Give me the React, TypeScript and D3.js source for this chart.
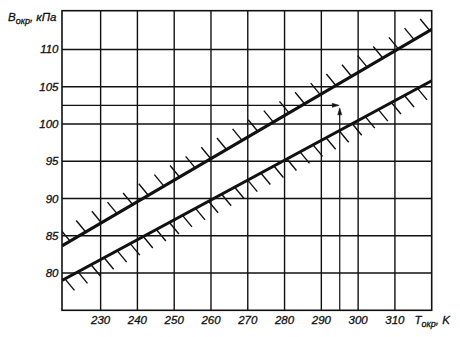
import React from "react";
import * as d3 from "d3";

const xDomain = [219.5, 320];
const yDomain = [75, 115.2];
const xTicks = [230, 240, 250, 260, 270, 280, 290, 300, 310];
const yTicks = [80, 85, 90, 95, 100, 105, 110];
const upperLine = [
  { t: 219.5, b: 83.65 },
  { t: 320, b: 112.7 },
];
const lowerLine = [
  { t: 219.5, b: 79.0 },
  { t: 320, b: 105.8 },
];
const markerT = 295;
const markerB = 102.5;
const upperHatchStart = 221.7;
const upperHatchStep = 4.25;
const upperHatchCount = 24;
const lowerHatchStart = 220.3;
const lowerHatchStep = 3.55;
const lowerHatchCount = 29;

const W = 460;
const H = 337;
const FONT = "'Liberation Sans', Arial, sans-serif";

export default function App() {
  const x = d3.scaleLinear().domain(xDomain).range([62, 431.7]);
  const y = d3.scaleLinear().domain(yDomain).range([310.3, 10.7]);
  const left = x(xDomain[0]);
  const right = x(xDomain[1]);
  const top = y(yDomain[1]);
  const bottom = y(yDomain[0]);

  const lineGen = d3
    .line<{ t: number; b: number }>()
    .x((d) => x(d.t))
    .y((d) => y(d.b));

  const interp = (pts: { t: number; b: number }[], t: number) =>
    pts[0].b + ((pts[1].b - pts[0].b) * (t - pts[0].t)) / (pts[1].t - pts[0].t);

  const hatches = (
    pts: { t: number; b: number }[],
    start: number,
    step: number,
    count: number,
    dir: number
  ) =>
    d3.range(count).map((i) => {
      const t = start + i * step;
      const px = x(t);
      const py = y(interp(pts, t));
      return { x1: px, y1: py, x2: px + dir * 9.5, y2: py + dir * 11.5 };
    });

  const upH = hatches(upperLine, upperHatchStart, upperHatchStep, upperHatchCount, -1);
  const loH = hatches(lowerLine, lowerHatchStart, lowerHatchStep, lowerHatchCount, 1);

  const hy = y(markerB);
  const vx = x(markerT);
  const tipX = vx - 0.5;
  const tipY = hy + 2.5;

  return (
    <svg
      width={W}
      height={H}
      style={{ position: "absolute", left: 0, top: 0, background: "#fff" }}
    >
      <defs>
        <clipPath id="plot">
          <rect x={left} y={top} width={right - left} height={bottom - top} />
        </clipPath>
      </defs>
      <rect x={0} y={0} width={W} height={H} fill="#fff" />
      {/* grid */}
      <g stroke="#111" strokeWidth={1.4}>
        {xTicks.map((t) => (
          <line key={"vx" + t} x1={x(t)} x2={x(t)} y1={top} y2={bottom} />
        ))}
        {yTicks.map((v) => (
          <line key={"hy" + v} x1={left} x2={right} y1={y(v)} y2={y(v)} />
        ))}
      </g>
      <rect
        x={left}
        y={top}
        width={right - left}
        height={bottom - top}
        fill="none"
        stroke="#111"
        strokeWidth={1.6}
      />
      {/* marker arrows */}
      <g stroke="#111" strokeWidth={1.2} fill="#111">
        <line x1={left} x2={tipX - 6} y1={hy} y2={hy} />
        <path d={`M${tipX},${hy} L${tipX - 7},${hy - 2} L${tipX - 7},${hy + 2} Z`} strokeWidth={0.5} />
        <line x1={vx} x2={vx} y1={bottom} y2={tipY + 6} />
        <path d={`M${vx},${tipY} L${vx - 2},${tipY + 7} L${vx + 2},${tipY + 7} Z`} strokeWidth={0.5} />
      </g>
      {/* boundary lines with hatching */}
      <g clipPath="url(#plot)" stroke="#111">
        {upH.concat(loH).map((h, i) => (
          <line key={"h" + i} x1={h.x1} y1={h.y1} x2={h.x2} y2={h.y2} strokeWidth={1.4} />
        ))}
        <path d={lineGen(upperLine) || ""} fill="none" strokeWidth={3} />
        <path d={lineGen(lowerLine) || ""} fill="none" strokeWidth={3} />
      </g>
      {/* tick labels */}
      <g fontFamily={FONT} fontStyle="italic" fontSize={11.5} fill="#111" stroke="#111" strokeWidth={0.3}>
        {yTicks.map((v) => (
          <text key={"ly" + v} x={58.5} y={y(v) + 4} textAnchor="end">
            {v}
          </text>
        ))}
        {xTicks.map((t) => (
          <text key={"lx" + t} x={x(t)} y={323.5} textAnchor="middle">
            {t}
          </text>
        ))}
      </g>
      {/* axis titles */}
      <text x={8} y={20.7} fontFamily={FONT} fontStyle="italic" fontSize={11.5} fill="#111" stroke="#111" strokeWidth={0.3}>
        B
        <tspan fontSize={9} dy={3.4}>
          окр
        </tspan>
        <tspan dy={-3.4}>, кПа</tspan>
      </text>
      <text x={414.5} y={323.5} fontFamily={FONT} fontStyle="italic" fontSize={11.5} fill="#111" stroke="#111" strokeWidth={0.3}>
        T
        <tspan fontSize={9} dy={3.4}>
          окр
        </tspan>
        <tspan dy={-3.4}>, K</tspan>
      </text>
    </svg>
  );
}
